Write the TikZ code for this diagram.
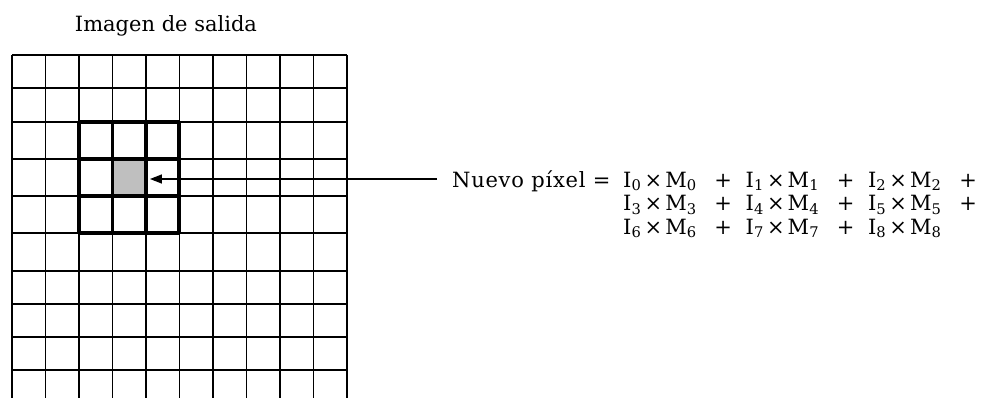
\documentclass[tikz,border=0pt]{standalone}
\usepackage{fontspec}
\setmainfont{DejaVu Serif}
\usetikzlibrary{arrows.meta}
\newcommand{\tm}[1]{I\textsubscript{#1}\hspace{0.15em}×\hspace{0.15em}M\textsubscript{#1}}
\newcommand{\pl}{\hspace{0.85em}+\hspace{0.65em}}
\begin{document}
\begin{tikzpicture}[x=1pt,y=-1pt,
  thin grid/.style={line width=1.4pt},
  bold grid/.style={line width=3.4pt},
  lbl/.style={font=\fontsize{21}{23.5}\selectfont, inner sep=0pt},
  conn/.style={line width=1.3pt,-{Triangle[length=12pt,width=9pt]}}]
\useasboundingbox (0,0) rectangle (992,398);
% thin grid
\foreach \i in {0,...,10} {
  \draw[thin grid] ({12+33.5*\i},55) -- ({12+33.5*\i},400);
}
\foreach \y in {55,88,122,159,196,233,271,304,337,370} {
  \draw[thin grid] (12,\y) -- (347,\y);
}
% shaded cell
\node[draw=none, fill=black!25, minimum width=33.5pt, minimum height=37pt, inner sep=0pt] (cell) at (129,177.5) {};
% bold 3x3
\foreach \x in {79,112.5,146,179} {
  \draw[bold grid] (\x,122) -- (\x,233);
}
\foreach \y in {122,159,196,233} {
  \draw[bold grid] (79,\y) -- (179,\y);
}
\node[lbl, anchor=base] (title) at (166,32) {Imagen de salida};
\node[lbl, anchor=base west] (label) at (452,187) {\addfontfeature{LetterSpace=3.5}Nuevo píxel =};
\node[lbl, anchor=base west] (eq) at (623,187) {\begin{tabular}[t]{@{}l@{}}
\tm{0}\pl\tm{1}\pl\tm{2}\pl \\
\tm{3}\pl\tm{4}\pl\tm{5}\pl \\
\tm{6}\pl\tm{7}\pl\tm{8}
\end{tabular}};
\coordinate (start) at (437,179);
\draw[conn, shorten >=4pt] (start) -- (start -| cell.east);
\end{tikzpicture}
\end{document}
